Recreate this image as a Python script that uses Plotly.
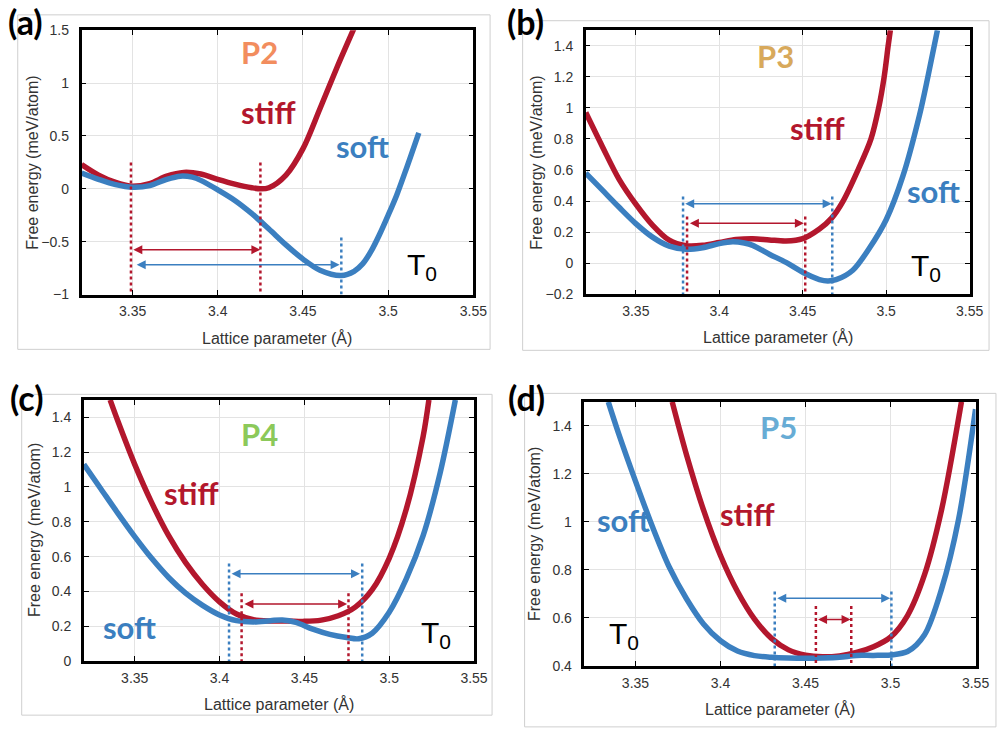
import plotly.graph_objects as go

RED = "#B3172D"
BLUE = "#3B7FC0"

# ---------------- Panel (a) : P2 ----------------
a_x_stiff = [3.32, 3.33, 3.34, 3.349, 3.36, 3.37, 3.38, 3.39, 3.40, 3.41, 3.42, 3.425, 3.43, 3.44, 3.45, 3.46, 3.47, 3.48]
a_y_stiff = [0.23, 0.13, 0.06, 0.025, 0.05, 0.12, 0.155, 0.14, 0.09, 0.045, 0.01, 0.0, 0.01, 0.13, 0.38, 0.76, 1.15, 1.52]
a_x_soft = [3.32, 3.33, 3.34, 3.35, 3.36, 3.37, 3.378, 3.385, 3.39, 3.40, 3.41, 3.42, 3.43, 3.44, 3.45, 3.46, 3.4725, 3.48, 3.485, 3.49, 3.495, 3.50, 3.505, 3.51, 3.518]
a_y_soft = [0.15, 0.09, 0.04, 0.015, 0.03, 0.09, 0.12, 0.11, 0.08, -0.01, -0.11, -0.235, -0.38, -0.53, -0.665, -0.77, -0.82, -0.78, -0.71, -0.59, -0.43, -0.25, -0.06, 0.16, 0.53]
a_stiff_marks = [3.349, 3.425]
a_stiff_mark_top = 0.25
a_soft_marks = [3.4725]
a_soft_mark_top = -0.46
a_stiff_arrow = [3.3495, 3.425, -0.575]
a_soft_arrow = [3.3515, 3.4715, -0.717]

# ---------------- Panel (b) : P3 ----------------
b_x_stiff = [3.32, 3.33, 3.34, 3.35, 3.36, 3.37, 3.38, 3.39, 3.40, 3.41, 3.42, 3.43, 3.44, 3.45, 3.46, 3.4673, 3.4742, 3.4831, 3.4909, 3.4955, 3.4988, 3.5012, 3.5025]
b_y_stiff = [0.97, 0.75, 0.54, 0.38, 0.245, 0.148, 0.113, 0.115, 0.133, 0.152, 0.158, 0.15, 0.143, 0.158, 0.22, 0.29, 0.40, 0.60, 0.80, 1.0, 1.2, 1.4, 1.5]
b_x_soft = [3.32, 3.33, 3.34, 3.35, 3.36, 3.37, 3.38, 3.39, 3.40, 3.408, 3.415, 3.42, 3.43, 3.44, 3.45, 3.46, 3.465, 3.47, 3.48, 3.49, 3.50, 3.51, 3.52, 3.525, 3.5307]
b_y_soft = [0.58, 0.47, 0.36, 0.255, 0.168, 0.11, 0.09, 0.10, 0.126, 0.138, 0.13, 0.115, 0.058, 0.005, -0.058, -0.105, -0.114, -0.106, -0.045, 0.098, 0.28, 0.56, 0.955, 1.2, 1.5]
b_stiff_marks = [3.3807, 3.4515]
b_stiff_mark_top = 0.30
b_soft_marks = [3.3783, 3.4677]
b_soft_mark_top = 0.43
b_stiff_arrow = [3.3815, 3.4507, 0.258]
b_soft_arrow = [3.3787, 3.4673, 0.383]

# ---------------- Panel (c) : P4 ----------------
c_x_stiff = [3.3355, 3.34, 3.35, 3.36, 3.37, 3.38, 3.39, 3.40, 3.41, 3.42, 3.43, 3.44, 3.45, 3.46, 3.47, 3.48, 3.49, 3.50, 3.51, 3.52, 3.5234]
c_y_stiff = [1.5, 1.38, 1.13, 0.91, 0.72, 0.565, 0.44, 0.34, 0.27, 0.238, 0.23, 0.23, 0.228, 0.235, 0.26, 0.31, 0.41, 0.59, 0.87, 1.29, 1.5]
c_x_soft = [3.32, 3.33, 3.34, 3.35, 3.36, 3.37, 3.38, 3.39, 3.40, 3.41, 3.42, 3.43, 3.437, 3.445, 3.455, 3.465, 3.475, 3.482, 3.49, 3.50, 3.51, 3.52, 3.53, 3.539]
c_y_soft = [1.13, 0.99, 0.85, 0.715, 0.59, 0.48, 0.39, 0.32, 0.265, 0.232, 0.225, 0.232, 0.236, 0.222, 0.183, 0.153, 0.135, 0.128, 0.16, 0.28, 0.47, 0.72, 1.08, 1.5]
c_stiff_marks = [3.413, 3.476]
c_stiff_mark_top = 0.389
c_soft_marks = [3.4056, 3.4841]
c_soft_mark_top = 0.56
c_stiff_arrow = [3.4138, 3.4752, 0.328]
c_soft_arrow = [3.4062, 3.4828, 0.502]

# ---------------- Panel (d) : P5 ----------------
d_x_stiff = [3.3716, 3.38, 3.39, 3.40, 3.41, 3.42, 3.43, 3.44, 3.45, 3.46, 3.47, 3.48, 3.49, 3.50, 3.51, 3.52, 3.53, 3.5417]
d_y_stiff = [1.5, 1.28, 1.05, 0.86, 0.71, 0.595, 0.515, 0.467, 0.445, 0.438, 0.442, 0.456, 0.48, 0.52, 0.61, 0.78, 1.05, 1.5]
d_x_soft = [3.334, 3.34, 3.35, 3.36, 3.37, 3.38, 3.39, 3.40, 3.41, 3.42, 3.43, 3.44, 3.45, 3.46, 3.47, 3.48, 3.49, 3.50, 3.51, 3.52, 3.53, 3.54, 3.55]
d_y_soft = [1.5, 1.37, 1.17, 0.98, 0.81, 0.68, 0.575, 0.505, 0.462, 0.443, 0.436, 0.433, 0.432, 0.433, 0.436, 0.444, 0.444, 0.446, 0.46, 0.53, 0.72, 1.01, 1.47]
d_stiff_marks = [3.4561, 3.4769]
d_stiff_mark_top = 0.65
d_soft_marks = [3.4319, 3.5005]
d_soft_mark_top = 0.71
d_stiff_arrow = [3.4565, 3.4765, 0.594]
d_soft_arrow = [3.4325, 3.4998, 0.682]

# Axis ranges / ticks
x_range = [3.32, 3.55]
x_ticks = [3.35, 3.4, 3.45, 3.5, 3.55]
y_ranges = {"a": [-1, 1.5], "b": [-0.2, 1.5], "c": [0, 1.5], "d": [0.4, 1.5]}
y_dticks = {"a": 0.5, "b": 0.2, "c": 0.2, "d": 0.2}

# Text labels
titles = {"a": "P2", "b": "P3", "c": "P4", "d": "P5"}
title_colors = {"a": "#F28D5E", "b": "#D8A95B", "c": "#8CC95A", "d": "#67ACD5"}
title_pos = {"a": (3.4242, 1.241), "b": (3.4338, 1.296), "c": (3.4237, 1.27), "d": (3.4344, 1.372)}
stiff_pos = {"a": (3.4298, 0.671), "b": (3.4594, 0.835), "c": (3.3836, 0.933), "d": (3.416, 1.008)}
soft_pos = {"a": (3.485, 0.353), "b": (3.5283, 0.425), "c": (3.3467, 0.159), "d": (3.3432, 0.984)}
t0_pos = {"a": (3.52, -0.76), "b": (3.5238, -0.047), "c": (3.5273, 0.137), "d": (3.343, 0.514)}

W, H = 1007, 730
boxes = {"a": (82.7, 22.7, 480.0, 293.0), "b": (594.0, 22.7, 983.3, 292.7),
         "c": (85.0, 400.7, 480.7, 667.7), "d": (592.7, 402.7, 989.3, 672.7)}
frames = {"a": (18, 7, 497, 349), "b": (530, 13, 1003, 350),
          "c": (22, 395, 499, 723), "d": (532, 394, 1010, 735)}
panel_label_pos = {"a": (26, 20), "b": (533, 20), "c": (27, 404), "d": (534, 404)}

data = {
    "a": (a_x_stiff, a_y_stiff, a_x_soft, a_y_soft, a_stiff_marks, a_stiff_mark_top, a_soft_marks, a_soft_mark_top, a_stiff_arrow, a_soft_arrow),
    "b": (b_x_stiff, b_y_stiff, b_x_soft, b_y_soft, b_stiff_marks, b_stiff_mark_top, b_soft_marks, b_soft_mark_top, b_stiff_arrow, b_soft_arrow),
    "c": (c_x_stiff, c_y_stiff, c_x_soft, c_y_soft, c_stiff_marks, c_stiff_mark_top, c_soft_marks, c_soft_mark_top, c_stiff_arrow, c_soft_arrow),
    "d": (d_x_stiff, d_y_stiff, d_x_soft, d_y_soft, d_stiff_marks, d_stiff_mark_top, d_soft_marks, d_soft_mark_top, d_stiff_arrow, d_soft_arrow),
}

fig = go.Figure()
annotations = []
shapes = []
TICKFONT = dict(family="Liberation Sans, Arial, sans-serif", size=14, color="#333333")
TITLEFONT = dict(family="Liberation Sans, Arial, sans-serif", size=16, color="#333333")
LABELFONT = "Lato, Open Sans, sans-serif"

for i, key in enumerate(["a", "b", "c", "d"]):
    n = "" if i == 0 else str(i + 1)
    xref, yref = "x" + n, "y" + n
    xs, ys, xf, yf, sm, smt, fm, fmt, sa, fa = data[key]
    ybot = y_ranges[key][0]

    fig.add_trace(go.Scatter(x=xs, y=ys, mode="lines", line=dict(color=RED, width=5.5, shape="spline", smoothing=0.9),
                             xaxis=xref, yaxis=yref, showlegend=False, hoverinfo="skip"))
    fig.add_trace(go.Scatter(x=xf, y=yf, mode="lines", line=dict(color=BLUE, width=5.5, shape="spline", smoothing=0.9),
                             xaxis=xref, yaxis=yref, showlegend=False, hoverinfo="skip"))
    for marks, top, col in ((fm, fmt, BLUE), (sm, smt, RED)):
        mx, my = [], []
        for xv in marks:
            mx += [xv, xv, None]
            my += [top, ybot, None]
        fig.add_trace(go.Scatter(x=mx, y=my, mode="lines", line=dict(color=col, width=2.5, dash="dot"),
                                 xaxis=xref, yaxis=yref, showlegend=False, hoverinfo="skip"))
    for arr, col in ((sa, RED), (fa, BLUE)):
        annotations.append(dict(x=arr[1], y=arr[2], ax=arr[0], ay=arr[2], xref=xref, yref=yref,
                                axref=xref, ayref=yref, text="", showarrow=True, arrowhead=2,
                                arrowside="end+start", arrowwidth=1.5, arrowsize=1.2, arrowcolor=col,
                                standoff=0, startstandoff=0))
    common_txt = dict(xref=xref, yref=yref, showarrow=False, xanchor="center", yanchor="middle")
    annotations.append(dict(x=title_pos[key][0], y=title_pos[key][1], text="<b>%s</b>" % titles[key], yshift=6,
                            font=dict(family=LABELFONT, size=31, color=title_colors[key]), **common_txt))
    annotations.append(dict(x=stiff_pos[key][0], y=stiff_pos[key][1], text="<b>stiff</b>", yshift=6,
                            font=dict(family=LABELFONT, size=31, color=RED), **common_txt))
    annotations.append(dict(x=soft_pos[key][0], y=soft_pos[key][1], text="<b>soft</b>", yshift=6,
                            font=dict(family=LABELFONT, size=31, color=BLUE), **common_txt))
    annotations.append(dict(x=t0_pos[key][0], y=t0_pos[key][1], text="T<sub>0</sub>", yshift=3,
                            font=dict(family="Liberation Sans, Arial, sans-serif", size=30, color="black"), **common_txt))

    l, t, r, b = boxes[key]
    axis_common = dict(showline=True, linewidth=2.5, linecolor="black", mirror="ticks", ticks="inside",
                       ticklen=5, tickwidth=1, tickcolor="black", showgrid=True, gridcolor="#e3e3e3",
                       gridwidth=1, zeroline=False, tickfont=TICKFONT)
    fig.update_layout(**{
        "xaxis" + n: dict(domain=[l / W, r / W], range=x_range, tickvals=x_ticks, anchor=yref,
                          ticklabelstandoff=2, **axis_common),
        "yaxis" + n: dict(domain=[1 - b / H, 1 - t / H], range=y_ranges[key], dtick=y_dticks[key],
                          tick0=y_ranges[key][0], anchor=xref, ticklabelstandoff=7, **axis_common),
    })
    annotations.append(dict(x=(l + r) / 2 / W, y=1 - (b + 44) / H, xref="paper", yref="paper",
                            xanchor="center", yanchor="middle",
                            text="Lattice parameter (Å)", showarrow=False, font=TITLEFONT))
    annotations.append(dict(x=(l - 50) / W, y=1 - (t + b) / 2 / H, xref="paper", yref="paper",
                            xanchor="center", yanchor="middle",
                            text="Free energy (meV/atom)", textangle=-90, showarrow=False, font=TITLEFONT))
    px, py = panel_label_pos[key]
    annotations.append(dict(x=px / W, y=1 - py / H, xref="paper", yref="paper", text="<b>(%s)</b>" % key,
                            xanchor="center", yanchor="middle", yshift=6,
                            showarrow=False, font=dict(family=LABELFONT, size=34, color="black")))
    fl, ft, fr, fb = frames[key]
    shapes.append(dict(type="rect", xref="paper", yref="paper", x0=fl / W, x1=fr / W, y0=1 - fb / H, y1=1 - ft / H,
                       line=dict(color="#cfcfcf", width=1), layer="below"))

fig.update_layout(width=W, height=H, margin=dict(l=0, r=0, t=0, b=0), paper_bgcolor="white",
                  plot_bgcolor="white", annotations=annotations, shapes=shapes, showlegend=False)

fig.write_html("out.html", config={"displayModeBar": False},
               post_script="document.body.style.margin='0px';document.body.style.overflow='hidden';")
